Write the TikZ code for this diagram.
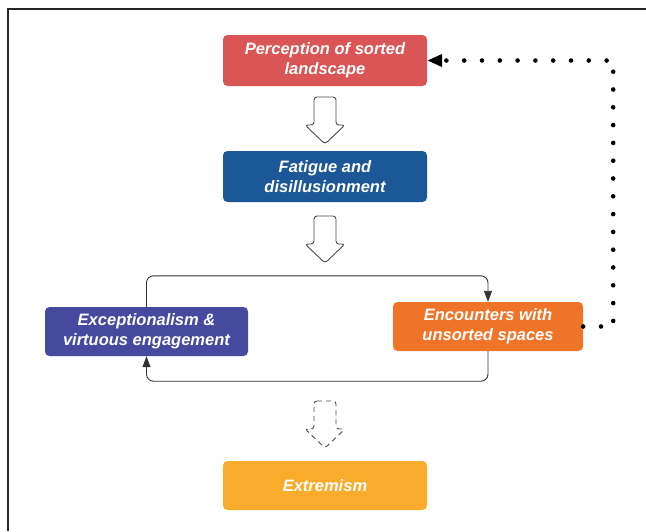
\documentclass[tikz,border=0pt]{standalone}
\usepackage{fontspec}
\setmainfont{Liberation Sans}
\usetikzlibrary{arrows.meta}
\definecolor{cper}{HTML}{D95556}
\definecolor{cfat}{HTML}{1C5797}
\definecolor{cexc}{HTML}{464A9F}
\definecolor{cenc}{HTML}{F07428}
\definecolor{cext}{HTML}{F9AC2C}
\tikzset{
  box/.style={rounded corners=4.5pt, minimum height=51pt, text=white, inner sep=0pt,
    font=\bfseries\itshape\fontsize{16.5}{20}\selectfont, align=center},
  conn/.style={line width=0.9pt, black!80, rounded corners=7pt, -{Triangle[length=11pt,width=8pt]}},
  dotline/.style={line width=4.6pt, line cap=round, dash pattern=on 0pt off 17.8pt, black,
    -{Triangle[length=15pt,width=12pt]}},
  barrow/.pic={\draw[line width=0.9pt, black!70, fill=white, rounded corners=3pt, pic actions]
    (-11,0) -- (11,0) -- (11,28) -- (20,28) -- (0,47) -- (-20,28) -- (-11,28) -- cycle;}
}
\begin{document}
\begin{tikzpicture}[x=1pt,y=-1pt]
\useasboundingbox (0,0) rectangle (646,531);
\draw[line width=1.3pt, black!85] (8,531) -- (8,9) -- (646,9);

\node[box, fill=cper, minimum width=204pt] (per) at (325,60.5) {Perception of sorted\\landscape};
\node[box, fill=cfat, minimum width=204pt] (fat) at (325,176.5) {Fatigue and\\disillusionment};
\node[box, fill=cexc, minimum width=203pt, minimum height=49pt] (exc) at (146.5,331.5) {Exceptionalism \&\\virtuous engagement};
\node[box, fill=cenc, minimum width=190pt, minimum height=49pt] (enc) at (488,326.5) {Encounters with\\unsorted spaces};
\node[box, fill=cext, minimum width=204pt, minimum height=49pt] (ext) at (325,485.5) {Extremism};

\pic at (325,97) {barrow};
\pic at (325,216) {barrow};
\pic[dashed, dash pattern=on 5pt off 4pt] at (325,401) {barrow};

\draw[conn] (exc.north) -- ++(0,-31) -| (enc.north);
\draw[conn] (enc.south) -- ++(0,30) -| (exc.south);

\draw[dotline] (enc.east) -- ++(30,0) |- (per.east);
\end{tikzpicture}
\end{document}
